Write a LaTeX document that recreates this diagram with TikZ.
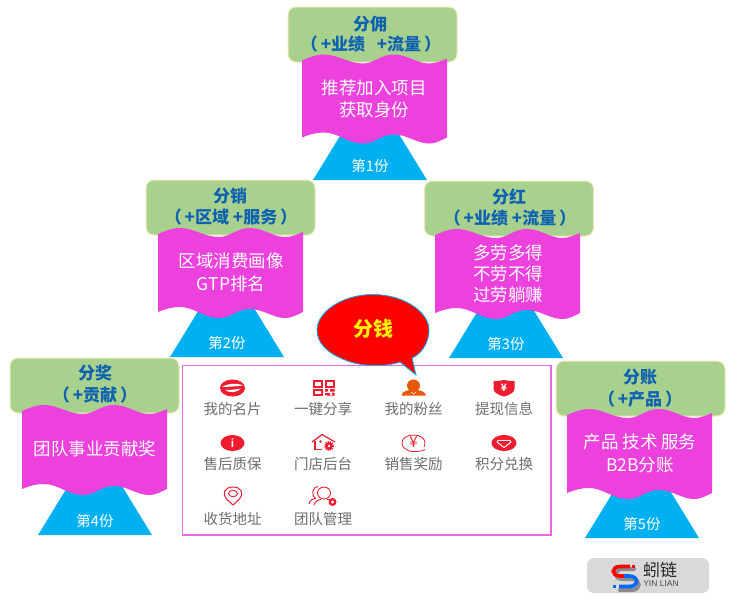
\documentclass[tikz,border=0pt]{standalone}
\usepackage{fontspec}
\setmainfont{Noto Sans CJK SC}
\setsansfont{Liberation Sans}
\usetikzlibrary{shapes.callouts,shapes.geometric}
\definecolor{grn}{HTML}{A9D18E}
\definecolor{grnedge}{HTML}{EFE8B8}
\definecolor{mag}{HTML}{EC41DC}
\definecolor{sky}{HTML}{00B0F0}
\definecolor{hdr}{HTML}{0F62B0}
\definecolor{ired}{HTML}{EE1C2E}
\definecolor{iorg}{HTML}{E8590C}
\definecolor{lab}{HTML}{6E6E6E}
\tikzset{
 x=1pt,y=-1pt,
 hdrtxt/.style={text=hdr,font=\fontsize{17}{19}\selectfont\bfseries,inner sep=0pt},
 bodytxt/.style={text=white,font=\fontsize{17.5}{21}\selectfont,inner sep=0pt,align=center},
 sharetxt/.style={text=white,font=\fontsize{14.5}{17}\selectfont,inner sep=0pt},
 gridtxt/.style={text=lab,font=\fontsize{14.5}{16}\selectfont,inner sep=0pt},
 hdrbox/.style={fill=grn,draw=grnedge,line width=1pt,rounded corners=8pt},
 iconline/.style={draw=ired,line width=1pt,fill=none},
 iconfill/.style={fill=ired,draw=none},
}
% left of wave, y of wave left top, wave height
\newcommand{\wavebanner}[3]{%
 \fill[mag,shift={(#1,#2)}] (0,0) .. controls (7,-3) and (14,-6) .. (22,-6)
  .. controls (36,-6) and (46,3) .. (61,3)
  .. controls (73,3) and (78,-6) .. (92,-6)
  .. controls (105,-6) and (115,3) .. (127,3)
  .. controls (134,3) and (140,0) .. (145,-2)
  -- (145,#3) .. controls (140,#3+2) and (135,#3+6) .. (127,#3+6)
  .. controls (115,#3+6) and (105,#3-3) .. (92,#3-3)
  .. controls (78,#3-3) and (74,#3+6) .. (61,#3+6)
  .. controls (46,#3+6) and (36,#3-5) .. (22,#3-5)
  .. controls (14,#3-5) and (7,#3-3) .. (0,#3) -- cycle;}
\newcommand{\basetri}[2]{\fill[sky] (#1-57,#2) -- (#1,#2-93) -- (#1+57,#2) -- cycle;}
\newcommand{\greenbox}[2]{\path[hdrbox] (#1,#2) rectangle ++(169,55);}
\begin{document}
\begin{tikzpicture}
\useasboundingbox (0,0) rectangle (735,600);
\fill[white] (0,0) rectangle (735,600);

% --- top banner
\basetri{370}{180}\greenbox{288}{7}\wavebanner{302}{60.5}{77}
\node[hdrtxt] (h1a) at (370,24) {分佣};
\node[hdrtxt] (h1b) at (371,44) {（\,+业绩\ \ \ +流量\,）};
\node[bodytxt] (b1a) at (374,88) {推荐加入项目};
\node[bodytxt] (b1b) at (374,110) {获取身份};
\node[sharetxt] (s1) at (370,166) {第1份};

% --- left banner
\basetri{227}{357}\greenbox{146}{180}\wavebanner{158}{234}{78}
\node[hdrtxt] (h2a) at (230,196) {分销};
\node[hdrtxt] (h2b) at (231,217) {（\,+区域\ +服务\,）};
\node[bodytxt] (b2a) at (231,261) {区域消费画像};
\node[bodytxt] (b2b) at (231,284) {GTP排名};
\node[sharetxt] (s2) at (227,343) {第2份};

% --- right banner
\basetri{506}{358}\greenbox{424.5}{181}\wavebanner{435}{235}{78}
\node[hdrtxt] (h3a) at (509,197) {分红};
\node[hdrtxt] (h3b) at (510,218) {（\,+业绩\ +流量\,）};
\node[bodytxt] (b3a) at (508,253) {多劳多得};
\node[bodytxt] (b3b) at (508,274) {不劳不得};
\node[bodytxt] (b3c) at (508,295) {过劳躺赚};
\node[sharetxt] (s3) at (506,344) {第3份};

% --- lower left banner
\basetri{95}{535}\greenbox{10}{358}\wavebanner{22}{411}{78}
\node[hdrtxt] (h4a) at (95,373) {分奖};
\node[hdrtxt] (h4b) at (95,395) {（\,+贡献\,）};
\node[bodytxt] (b4a) at (95,449) {团队事业贡献奖};
\node[sharetxt] (s4) at (95,521) {第4份};

% --- lower right banner
\basetri{642}{538}\greenbox{556}{361}\wavebanner{567}{415}{78}
\node[hdrtxt] (h5a) at (640,377) {分账};
\node[hdrtxt] (h5b) at (640,399) {（\,+产品\,）};
\node[bodytxt] (b5a) at (640,442) {产品 技术 服务};
\node[bodytxt] (b5b) at (640,465) {B2B分账};
\node[sharetxt] (s5) at (642,524) {第5份};

% --- central panel
\draw[draw=mag!80!white,line width=1.3pt,fill=white] (182.5,365.5) rectangle (551,535);

% speech bubble
\path[fill=red,draw=sky,line width=.8pt]
  (400,362) .. controls (385,367) and (362,367) .. (345,360)
  .. controls (327,353) and (317,343) .. (317,330)
  .. controls (317,312) and (342,294.5) .. (373,294.5)
  .. controls (404,294.5) and (429,312) .. (429,330)
  .. controls (429,344) and (420,355) .. (412,358)
  -- (416,375) -- cycle;
\node[text=yellow,font=\fontsize{20}{22}\selectfont\bfseries,inner sep=0pt] (money) at (373,329) {分钱};

% grid labels
\foreach \nm/\px/\py/\tx in {
 g1/232.5/409/我的名片,g2/323/409/一键分享,g3/413.5/409/我的粉丝,g4/504/409/提现信息,
 g5/232.5/464/售后质保,g6/323/464/门店后台,g7/413.5/464/销售奖励,g8/504/464/积分兑换,
 g9/232.5/519/收货地址,g10/323/519/团队管理}
 {\node[gridtxt] (\nm) at (\px,\py) {\tx};}

% icon: card
\fill[ired] (232.5,388) ellipse (12.5 and 8.5);
\fill[white] (222,387) .. controls (228,383) and (238,383) .. (243,385.5)
  .. controls (238,386) and (229,387) .. (222,387) -- cycle;
\fill[white] (225,390) .. controls (230,390) and (236,389.5) .. (241,388.5)
  .. controls (237,393) and (229,393) .. (225,390) -- cycle;
% icon: QR
\begin{scope}[shift={(313,380)}]
 \draw[iconline,line width=2pt] (1,1) rectangle (8.5,6.5);
 \draw[iconline,line width=2pt] (13,1) rectangle (20.5,6.5);
 \draw[iconline,line width=2pt] (1,10) rectangle (8.5,15);
 \fill[ired] (12,9) rectangle (15,11.5) (17,9) rectangle (21.5,11.5) (12,13) rectangle (17,15)
   (19,12.5) rectangle (21.5,15.5) (14,16) rectangle (19,15.5);
\end{scope}
% icon: person
\fill[iorg] (413.5,385.5) ellipse (6.5 and 6);
\fill[iorg] (401.5,395.5) .. controls (402,390.5) and (408,391) .. (410.5,389.5)
  -- (416.5,389.5) .. controls (419,391) and (425,390.5) .. (426,395.5) -- cycle;
\draw[white,line width=.5pt] (411,392) -- (413.5,394) -- (416,392);
% icon: shield
\fill[ired] (493.5,381) .. controls (499,381.5) and (501,380) .. (504,380)
  .. controls (507,380) and (509,381.5) .. (514.5,381) -- (514.5,389)
  .. controls (514.5,393) and (508,395.5) .. (504,396.5)
  .. controls (500,395.5) and (493.5,393) .. (493.5,389) -- cycle;
\node[text=white,font=\fontsize{10}{10}\selectfont\bfseries,inner sep=0pt] (yen1) at (504,388) {¥};
% icon: info
\fill[ired] (232.5,443) ellipse (12 and 8);
\node[text=white,font=\fontsize{12}{12}\selectfont\bfseries\sffamily,inner sep=0pt] (inf) at (232.5,443) {i};
% icon: house
\draw[iconline,line width=1.2pt,line join=round] (312,442) -- (322,434.5) -- (335,442);
\draw[iconline,line width=1.2pt] (315,441) -- (315,449.5) -- (322,449.5);
\fill[ired] (320.5,441.5) circle (1.3);
\draw[ired,line width=1.4pt,dash pattern=on 1.3pt off 1pt] (329,446) circle (4.3);
\fill[ired] (329,446) circle (3.8);
\fill[white] (329,446) circle (1.4);
% icon: yen speech
\draw[iconline,line width=.8pt] (425,449.5) .. controls (421,451.5) and (418,451.5) .. (413.5,451.5)
  .. controls (406,451.5) and (402,447) .. (402,443) .. controls (402,438) and (407,435) .. (413.5,435)
  .. controls (420,435) and (425,438) .. (425,443) .. controls (425,445) and (424,446.5) .. (424,447);
\node[text=ired,font=\fontsize{15}{15}\selectfont,inner sep=0pt] (yen2) at (413.5,442.5) {¥};
% icon: gem
\fill[ired] (504,443) ellipse (12.5 and 8);
\draw[draw=white,line width=.9pt,line join=round] (498,440.5) -- (510,440.5) -- (511,442) -- (504,447.5) -- (497,442) -- cycle;
% icon: pin
\draw[iconline] (233,505) -- (226.5,499) .. controls (222,494) and (224,487) .. (233,487)
  .. controls (242,487) and (244,494) .. (239.5,499) -- cycle;
\draw[iconline,line width=.9pt] (233,493.5) ellipse (4.5 and 3.2);
% icon: team
\begin{scope}[iconline,line width=.9pt]
 \draw (324,493) ellipse (6.5 and 6);
 \draw (315.5,499) .. controls (311,495) and (312,487) .. (318,486.5);
 \draw (309,504) .. controls (310,500) and (313,498.5) .. (316,498);
 \draw (314,505) .. controls (315,501) and (318,500) .. (321,499.5);
 \draw (327,499.5) .. controls (329,499.5) and (330,500) .. (331,500);
\end{scope}
\fill[ired] (332.5,502) circle (4);
\fill[white] (332.5,502) circle (1.6);

% --- logo
\path[fill=black!15,rounded corners=7pt] (587,558) rectangle (709,593);
\path[draw=black!45,line width=4pt,line cap=round] (634,569) -- (622,569)
  .. controls (614,569) and (614,579) .. (622,579) -- (632,579)
  .. controls (641,579) and (641,590) .. (632,590) -- (620,590);
\path[draw=red,line width=3.6pt] (630,566.5) -- (620,566.5)
  .. controls (611,566.5) and (611,576) .. (620,576) -- (626,576);
\fill[red] (632,564.7) rectangle (635,568.3);
\path[draw=sky!60!blue,line width=3.6pt] (624,576) -- (629,576)
  .. controls (639,576) and (639,586.5) .. (629,586.5) -- (619,586.5);
\fill[sky!60!blue] (613,584.7) rectangle (616,588.3);
\node[text=black!85,font=\fontsize{17}{17}\selectfont,inner sep=0pt] (logoa) at (660,570) {蚓链};
\node[text=black!70,font=\fontsize{8.5}{9}\selectfont\sffamily,inner sep=0pt] (logob) at (661,584) {YIN LIAN};
\end{tikzpicture}
\end{document}
